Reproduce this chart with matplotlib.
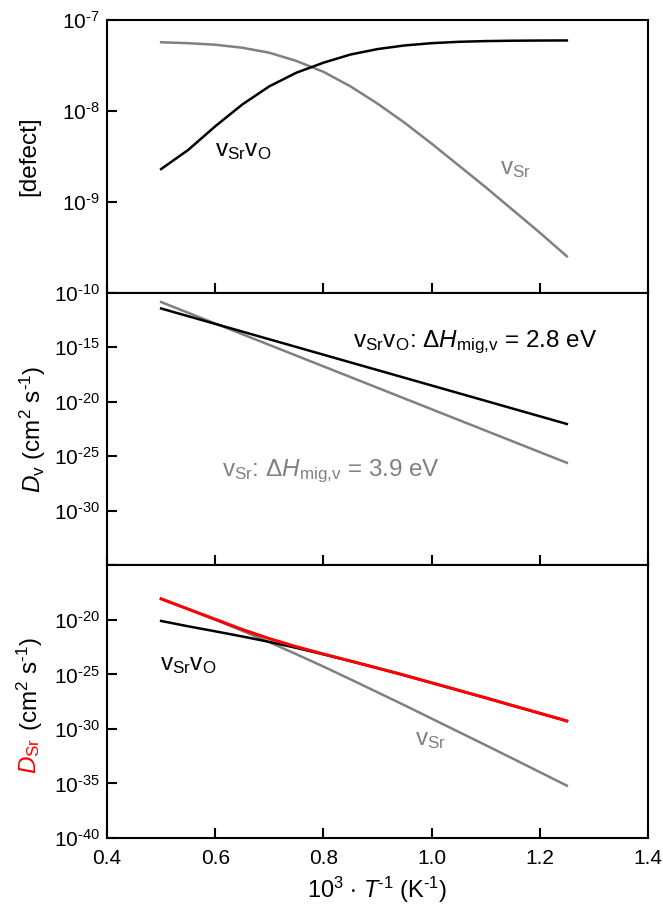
import matplotlib
matplotlib.use('Agg')
import matplotlib.pyplot as plt
import numpy as np

plt.rcParams['font.family'] = ['Liberation Sans', 'DejaVu Sans']
plt.rcParams['mathtext.fontset'] = 'custom'
plt.rcParams['mathtext.rm'] = 'Liberation Sans'
plt.rcParams['mathtext.it'] = 'Liberation Sans:italic'
plt.rcParams['mathtext.bf'] = 'Liberation Sans:bold'

GRAY = '#808080'

# common x grid (10^3 / T) used for the curves
x_grid = [0.50, 0.55, 0.60, 0.65, 0.70, 0.75, 0.80, 0.85, 0.90, 0.95, 1.00, 1.05, 1.10, 1.15, 1.20, 1.25]

# Panel 1: defect concentrations, log10 values
log_conc_vsrvo = [-8.64, -8.43, -8.17, -7.93, -7.73, -7.58, -7.47, -7.38, -7.32, -7.28,
                  -7.255, -7.24, -7.232, -7.228, -7.226, -7.225]
log_conc_vsr = [-7.245, -7.255, -7.272, -7.305, -7.36, -7.45, -7.57, -7.73, -7.92, -8.13,
                -8.36, -8.60, -8.84, -9.09, -9.34, -9.60]

# Panel 2: vacancy diffusivities (straight lines)
x_dv = [0.50, 1.25]
log_dv_vsrvo = [-11.45, -22.04]
log_dv_vsr = [-10.86, -25.6]

# Panel 3: Sr diffusivity, log10
log_dsr_vsrvo = [-20.1, -20.59, -21.05, -21.52, -22.02, -22.57, -23.16, -23.78, -24.42, -25.08,
                 -25.77, -26.46, -27.15, -27.86, -28.56, -29.27]
log_dsr_vsr = [-18.08, -19.02, -19.98, -21.0, -22.05, -23.15, -24.28, -25.45, -26.64, -27.83,
               -29.05, -30.27, -31.49, -32.72, -33.96, -35.2]
log_dsr_total = [-18.07, -19.01, -19.945, -20.88, -21.72, -22.46, -23.13, -23.77, -24.42, -25.08,
                 -25.77, -26.46, -27.15, -27.86, -28.56, -29.27]

x_ticks = [0.4, 0.6, 0.8, 1.0, 1.2, 1.4]

fig = plt.figure(figsize=(6.63, 9.13), dpi=100)
gs = fig.add_gridspec(3, 1, left=107/663, right=648/663, top=1-20/913, bottom=1-838/913, hspace=0)
axes = [fig.add_subplot(gs[i]) for i in range(3)]
ax1, ax2, ax3 = axes

lw = 1.8
ax1.plot(x_grid, 10.0**np.array(log_conc_vsr), color=GRAY, lw=lw)
ax1.plot(x_grid, 10.0**np.array(log_conc_vsrvo), color='black', lw=lw)
ax2.plot(x_dv, 10.0**np.array(log_dv_vsr), color=GRAY, lw=lw)
ax2.plot(x_dv, 10.0**np.array(log_dv_vsrvo), color='black', lw=lw)
ax3.plot(x_grid, 10.0**np.array(log_dsr_vsr), color=GRAY, lw=lw)
ax3.plot(x_grid, 10.0**np.array(log_dsr_vsrvo), color='black', lw=lw)
ax3.plot(x_grid, 10.0**np.array(log_dsr_total), color='red', lw=2.2)


def sup(e):
    # plain hyphen in the exponent, like the original
    return r'10$^{\text{-%d}}$' % e


for ax in axes:
    ax.set_yscale('log')
    ax.set_xlim(0.4, 1.4)
    ax.set_xticks(x_ticks)
    ax.tick_params(direction='in', length=7, width=1.5, labelsize=15)
    ax.tick_params(axis='x', pad=8)
    ax.tick_params(axis='y', pad=5)
    for s in ax.spines.values():
        s.set_linewidth(1.5)

ax1.set_ylim(1e-10, 1e-7)
ax1.set_yticks([1e-7, 1e-8, 1e-9, 1e-10])
ax1.set_yticklabels([sup(e) for e in (7, 8, 9, 10)])
ax2.set_ylim(1e-35, 1e-10)
ax2.set_yticks([1e-10, 1e-15, 1e-20, 1e-25, 1e-30, 1e-35])
ax2.set_yticklabels([''] + [sup(e) for e in (15, 20, 25, 30)] + [''])
ax3.set_ylim(1e-40, 1e-15)
ax3.set_yticks([1e-15, 1e-20, 1e-25, 1e-30, 1e-35, 1e-40])
ax3.set_yticklabels([''] + [sup(e) for e in (20, 25, 30, 35, 40)])
for ax in axes:
    ax.minorticks_off()

ax1.tick_params(labelbottom=False)
ax2.tick_params(labelbottom=False)
ax3.set_xticklabels(['%.1f' % t for t in x_ticks])
ax3.set_xlabel(r'10$^{\mathregular{3}}$ $\cdot$ $\it{T}$$^{\text{-1}}$ (K$^{\text{-1}}$)',
               fontsize=17, labelpad=5)

ax1.set_ylabel('[defect]', fontsize=17.5, labelpad=10)
ax2.set_ylabel(r'$\it{D}_{\mathregular{v}}$ (cm$^{\mathregular{2}}$ s$^{\text{-1}}$)', fontsize=17.5, labelpad=4)

# panel 3 ylabel: red D_Sr followed by black units
fig.text(30/663, 1-756/913, r'$\it{D}_{\mathregular{Sr}}$', color='red', fontsize=17.5,
         rotation=90, ha='center', va='center')
fig.text(30/663, 1-684/913, r'(cm$^{\mathregular{2}}$ s$^{\text{-1}}$)', color='black', fontsize=17.5,
         rotation=90, ha='center', va='center')

fs = 17.5
vsrvo = r'v$_{\mathregular{Sr}}$v$_{\mathregular{O}}$'
vsr = r'v$_{\mathregular{Sr}}$'
dH = r'$\Delta\it{H}_{\mathregular{mig{,}v}}$'
ax1.text(0.600, 10**-8.50, vsrvo, fontsize=fs, color='black')
ax1.text(1.126, 10**-8.70, vsr, fontsize=fs, color=GRAY)
ax2.text(0.855, 10**-14.95, vsrvo + ': ' + dH + ' = 2.8 eV', fontsize=fs, color='black')
ax2.text(0.613, 10**-26.85, vsr + ': ' + dH + ' = 3.9 eV', fontsize=fs, color=GRAY)
ax3.text(0.498, 10**-24.59, vsrvo, fontsize=fs, color='black')
ax3.text(0.969, 10**-31.47, vsr, fontsize=fs, color=GRAY)

fig.savefig('out.png', dpi=100)
